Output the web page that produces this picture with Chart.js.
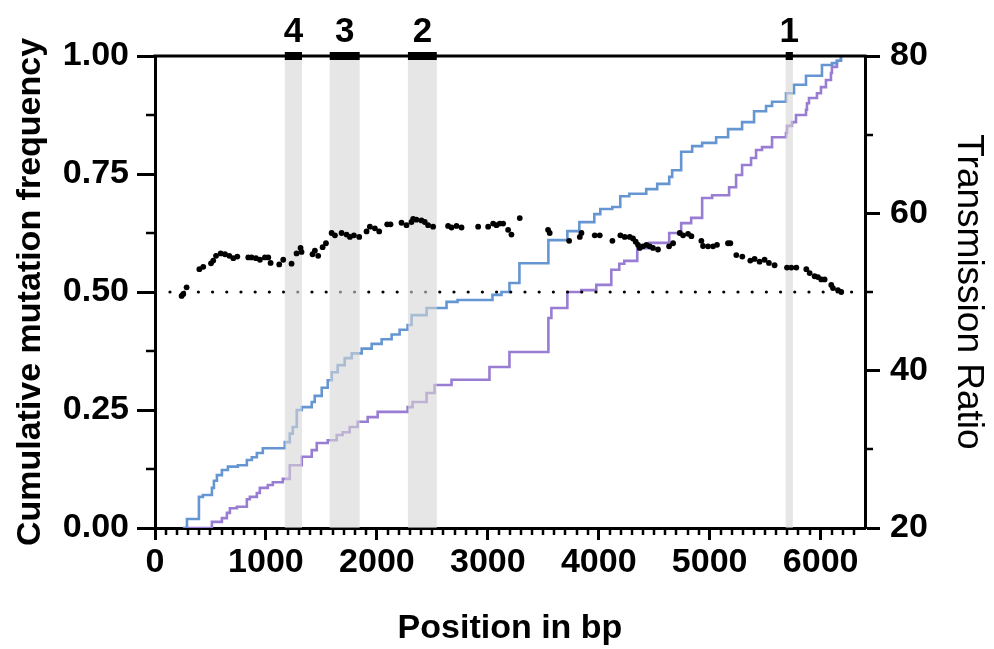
<!DOCTYPE html>
<html>
<head>
<meta charset="utf-8">
<script src="https://cdn.jsdelivr.net/npm/chart.js@4.4.1/dist/chart.umd.min.js"></script>
<style>
  html, body { margin: 0; padding: 0; background: #fff; }
  #wrap { width: 994px; height: 649px; position: relative; }
</style>
</head>
<body>
<div id="wrap"><canvas id="chart-mutations"></canvas></div>
<script>
// cumulative mutation frequency, step positions in bp
const blueX = [252, 288, 396, 432, 513, 531, 558, 603, 657, 747, 828, 873, 918, 972, 1170, 1215, 1242, 1278, 1323, 1413,
  1440, 1503, 1557, 1593, 1647, 1710, 1773, 1863, 1953, 2043, 2133, 2205, 2277, 2313, 2448, 2628, 2727, 3042, 3123, 3195,
  3285, 3546, 3717, 3825, 3960, 4014, 4122, 4194, 4275, 4428, 4527, 4635, 4662, 4743, 4842, 4932, 5058, 5166, 5292, 5400,
  5508, 5562, 5688, 5760, 5868, 6012, 6102, 6147, 6183]
const blueY = [0, 0.019, 0.066, 0.07, 0.085, 0.10, 0.112, 0.123, 0.13, 0.133, 0.144, 0.15, 0.159, 0.169, 0.182, 0.20, 0.214, 0.25, 0.256, 0.267,
  0.28, 0.297, 0.313, 0.33, 0.345, 0.36, 0.37, 0.38, 0.39, 0.40, 0.41, 0.42, 0.43, 0.451, 0.466, 0.479, 0.483, 0.494, 0.50, 0.519,
  0.561, 0.61, 0.629, 0.648, 0.665, 0.676, 0.68, 0.703, 0.708, 0.718, 0.729, 0.744, 0.758, 0.797, 0.809, 0.816, 0.828, 0.845, 0.86, 0.883,
  0.894, 0.903, 0.921, 0.939, 0.958, 0.981, 0.985, 0.99, 1.0]

const purpleX = [252, 513, 603, 648, 675, 738, 828, 855, 918, 945, 1017, 1062, 1152, 1215, 1323, 1413, 1458, 1557, 1638, 1692,
  1755, 1827, 1917, 2007, 2277, 2322, 2448, 2520, 2673, 3015, 3195, 3546, 3573, 3717, 3843, 3978, 4113, 4185, 4230, 4347,
  4455, 4635, 4743, 4833, 4932, 5022, 5175, 5238, 5292, 5373, 5418, 5472, 5562, 5688, 5697, 5742, 5778, 5868, 5877, 5895,
  5967, 6003, 6048, 6093, 6102, 6147, 6183]
const purpleY = [0, 0.013, 0.021, 0.032, 0.042, 0.045, 0.061, 0.066, 0.074, 0.085, 0.091, 0.097, 0.104, 0.133, 0.151, 0.165, 0.18, 0.186, 0.197, 0.203,
  0.214, 0.225, 0.235, 0.246, 0.256, 0.267, 0.286, 0.303, 0.314, 0.341, 0.373, 0.445, 0.466, 0.50, 0.504, 0.515, 0.547, 0.56, 0.566, 0.593,
  0.604, 0.625, 0.646, 0.657, 0.699, 0.705, 0.722, 0.748, 0.769, 0.784, 0.801, 0.807, 0.828, 0.837, 0.852, 0.86, 0.875, 0.886, 0.90, 0.911,
  0.921, 0.934, 0.949, 0.964, 0.977, 0.99, 1.0]

// transmission ratio per window
const ratioX = [240, 255, 285, 400, 435, 505, 525, 550, 592, 631, 670, 706, 742, 841, 871, 910, 946, 991, 1021, 1042,
  1120, 1156, 1231, 1276, 1312, 1321, 1420, 1441, 1471, 1511, 1541, 1592, 1622, 1682, 1727, 1757, 1793, 1841, 1907, 1937,
  1982, 2021, 2093, 2123, 2222, 2267, 2312, 2327, 2357, 2402, 2432, 2462, 2507, 2642, 2673, 2718, 2763, 2913, 3003, 3048,
  3078, 3108, 3138, 3183, 3213, 3288, 3543, 3558, 3733, 3829, 3844, 3964, 4009, 4123, 4195, 4234, 4279, 4309, 4333, 4354,
  4369, 4399, 4430, 4459, 4489, 4534, 4634, 4670, 4730, 4760, 4805, 4835, 4925, 4940, 4985, 5030, 5066, 5165, 5186, 5240,
  5294, 5366, 5405, 5450, 5495, 5534, 5585, 5697, 5736, 5781, 5871, 5901, 5946, 5976, 6006, 6036, 6096, 6111, 6156, 6186]
const ratioY = [49.5, 49.75, 50.6, 52.9, 53.2, 53.65, 54.0, 54.6, 54.9, 54.8, 54.6, 54.3, 54.5, 54.4, 54.4, 54.3, 54.1, 54.4, 54.4, 53.7,
  53.5, 54.1, 53.6, 54.9, 55.6, 55.1, 54.8, 55.25, 54.6, 55.7, 56.2, 57.5, 57.2, 57.5, 57.3, 57.0, 57.2, 57.0, 57.7, 58.3,
  58.1, 57.7, 58.6, 58.6, 58.8, 58.5, 58.9, 59.3, 59.2, 59.1, 58.9, 58.5, 58.3, 58.4, 58.2, 58.4, 58.2, 58.3, 58.3, 58.7,
  58.5, 58.7, 58.7, 57.9, 57.3, 59.4, 57.9, 57.5, 56.5, 57.0, 57.5, 57.2, 57.2, 56.5, 57.2, 57.0, 57.0, 56.8, 56.4, 56.0,
  55.6, 55.8, 56.0, 55.8, 55.6, 55.4, 55.8, 56.2, 57.5, 57.2, 57.4, 57.1, 56.5, 55.85, 55.8, 55.8, 56.0, 56.2, 56.2, 54.7,
  54.5, 54.0, 54.2, 53.85, 54.1, 53.7, 53.4, 53.1, 53.1, 53.1, 52.9, 52.4, 52.0, 51.9, 51.6, 51.6, 50.9, 50.5, 50.25, 50.0]

// 50% reference line (left axis 0.5 == ratio 50)
const refX = [135, 6300]
const refY = [0.5, 0.5]

// highlighted regions
const regionStart = [1170, 1575, 2280, 5685]
const regionEnd = [1325, 1845, 2540, 5750]
const regionLabels = ['4', '3', '2', '1']

const xMajorTicks = [0, 1000, 2000, 3000, 4000, 5000, 6000]
const xMinorTicks = []
for (let v = 100; v < 6400; v += 100) if (v % 1000 !== 0) xMinorTicks.push(v)
const yMinorTicks = [0.125, 0.375, 0.625, 0.875]
const y2MinorTicks = [30, 50, 70]

const FONT = "'Liberation Sans', Arial, Helvetica, sans-serif"
Chart.defaults.font.family = FONT
Chart.defaults.color = '#000'

const zip = (xs, ys) => xs.map((x, i) => ({ x, y: ys[i] }))

const decorations = {
  id: 'decorations',
  beforeDatasetDraw(chart, args) {
    if (chart.data.datasets[args.index].type !== 'scatter') return
    // bands go over the curves but under the ratio points
    const { ctx, chartArea: a, scales: { x } } = chart
    ctx.save()
    ctx.fillStyle = 'rgba(214,214,214,0.6)'
    regionStart.forEach((s, i) => {
      const x0 = x.getPixelForValue(s)
      const x1 = x.getPixelForValue(regionEnd[i])
      ctx.fillRect(x0, a.top, x1 - x0, a.bottom - a.top)
    })
    ctx.restore()
  },
  afterDraw(chart) {
    const { ctx, chartArea: a, scales: { x, y, y2 } } = chart
    ctx.save()
    ctx.strokeStyle = '#000'
    ctx.fillStyle = '#000'

    ctx.lineWidth = 3
    ctx.beginPath()
    ctx.moveTo(a.left - 1.5, a.top)
    ctx.lineTo(a.right + 1.5, a.top)
    ctx.stroke()

    ctx.font = `bold 35px ${FONT}`
    ctx.textAlign = 'center'
    ctx.textBaseline = 'alphabetic'
    regionStart.forEach((s, i) => {
      const x0 = x.getPixelForValue(s)
      const x1 = x.getPixelForValue(regionEnd[i])
      ctx.fillRect(x0, a.top - 4, x1 - x0, 8)
      ctx.fillText(regionLabels[i], (x0 + x1) / 2, a.top - 14)
    })

    ctx.lineWidth = 2.5
    ctx.beginPath()
    xMinorTicks.forEach(v => {
      const px = Math.round(x.getPixelForValue(v))
      ctx.moveTo(px, a.bottom)
      ctx.lineTo(px, a.bottom + 7)
    })
    yMinorTicks.forEach(v => {
      const py = Math.round(y.getPixelForValue(v))
      ctx.moveTo(a.left, py)
      ctx.lineTo(a.left - 9, py)
    })
    y2MinorTicks.forEach(v => {
      const py = Math.round(y2.getPixelForValue(v))
      ctx.moveTo(a.right, py)
      ctx.lineTo(a.right + 8, py)
    })
    ctx.stroke()
    ctx.restore()
  }
}

const tickFont = { size: 34, weight: 'bold' }
const grid = { drawOnChartArea: false, tickWidth: 3, tickColor: '#000' }
const border = { color: '#000', width: 3 }

new Chart(document.getElementById('chart-mutations'), {
  data: {
    datasets: [
      {
        type: 'scatter',
        label: 'Transmission ratio',
        yAxisID: 'y2',
        data: zip(ratioX, ratioY),
        pointRadius: 2.9,
        pointBackgroundColor: '#000',
        pointBorderWidth: 0,
        order: 0
      },
      {
        type: 'line',
        label: '50%',
        data: zip(refX, refY),
        borderColor: '#000',
        borderWidth: 3.2,
        borderDash: [0, 14.2],
        borderCapStyle: 'round',
        pointRadius: 0,
        order: 1
      },
      {
        type: 'line',
        label: 'Cumulative A',
        data: zip(blueX, blueY),
        stepped: true,
        borderColor: '#6696d2',
        borderWidth: 2.6,
        pointRadius: 0,
        order: 2
      },
      {
        type: 'line',
        label: 'Cumulative B',
        data: zip(purpleX, purpleY),
        stepped: true,
        borderColor: '#987dd3',
        borderWidth: 2.6,
        pointRadius: 0,
        order: 3
      }
    ]
  },
  options: {
    responsive: true,
    maintainAspectRatio: false,
    animation: false,
    layout: { padding: { top: 56, right: 0, bottom: 0, left: 0 } },
    plugins: { legend: { display: false }, tooltip: { enabled: false } },
    scales: {
      x: {
        type: 'linear',
        min: 0,
        max: 6400,
        afterBuildTicks(s) { s.ticks = xMajorTicks.map(value => ({ value })) },
        ticks: { font: tickFont, padding: 2, maxRotation: 0, autoSkip: false, callback: v => String(v) },
        grid: { ...grid, tickLength: 12 },
        border,
        title: { display: true, text: 'Position in bp', font: { size: 34, weight: 'bold' }, padding: { top: 0, bottom: 0 } },
        afterFit(s) { s.height = 121 }
      },
      y: {
        position: 'left',
        min: 0,
        max: 1,
        ticks: { stepSize: 0.25, font: tickFont, padding: 8, callback: v => v.toFixed(2) },
        grid: { ...grid, tickLength: 18 },
        border,
        title: { display: true, text: 'Cumulative mutation frequency', font: { size: 34, weight: 'bold' }, padding: { top: 10 } },
        afterFit(s) { s.width = 155 }
      },
      y2: {
        position: 'right',
        min: 20,
        max: 80,
        ticks: { stepSize: 20, font: tickFont, padding: 10 },
        grid: { ...grid, tickLength: 15 },
        border,
        title: { display: true, text: 'Transmission Ratio', font: { size: 37, weight: 'normal' }, padding: { top: 4 } },
        afterFit(s) { s.width = 129 }
      }
    }
  },
  plugins: [decorations]
})
</script>
</body>
</html>
